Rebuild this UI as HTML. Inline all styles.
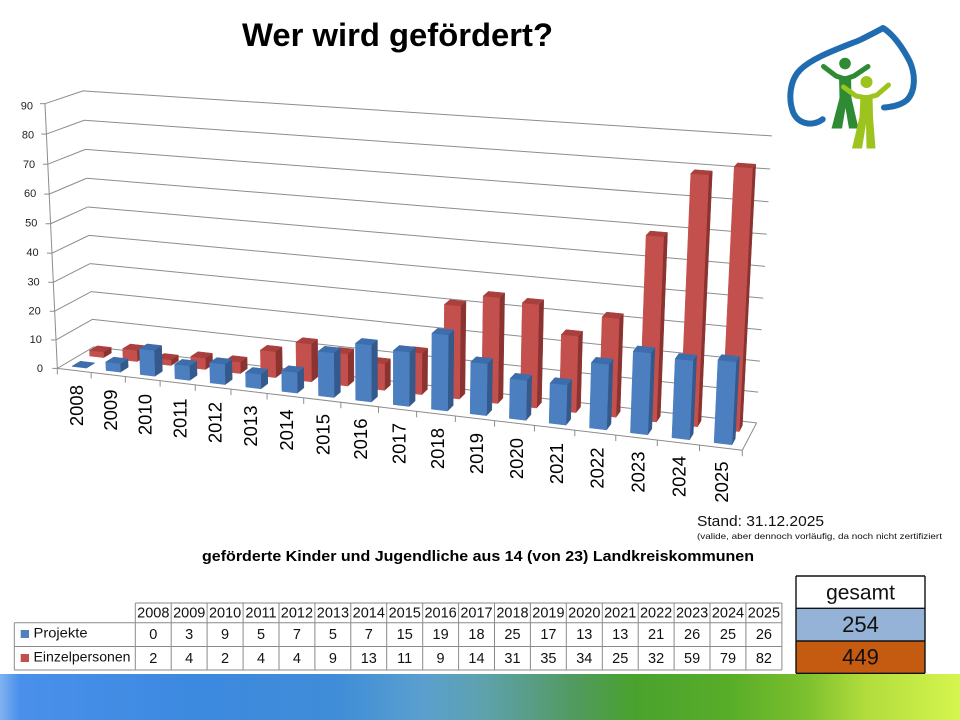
<!DOCTYPE html>
<html><head><meta charset="utf-8"><title>Wer wird gefördert?</title>
<style>
html,body{margin:0;padding:0;background:#fff}
body{width:960px;height:720px;overflow:hidden}
svg{display:block}
text{font-family:"Liberation Sans",Arial,sans-serif}
</style></head><body>
<svg id="s" xmlns="http://www.w3.org/2000/svg" width="960" height="720" viewBox="0 0 960 720">
<defs>
<linearGradient id="band" x1="0" y1="0" x2="1" y2="0">
<stop offset="0" stop-color="#80b3f2"/>
<stop offset="0.02" stop-color="#4a90ea"/>
<stop offset="0.2" stop-color="#3c89e0"/>
<stop offset="0.35" stop-color="#3f8dd8"/>
<stop offset="0.44" stop-color="#5a9fcf"/>
<stop offset="0.5" stop-color="#5ea2b0"/>
<stop offset="0.54" stop-color="#5a9e90"/>
<stop offset="0.6" stop-color="#519a5e"/>
<stop offset="0.66" stop-color="#4aa22e"/>
<stop offset="0.76" stop-color="#58ad28"/>
<stop offset="0.84" stop-color="#7cc02e"/>
<stop offset="0.9" stop-color="#b0dc3c"/>
<stop offset="1" stop-color="#d6f54e"/>
</linearGradient>
</defs>
<rect width="960" height="720" fill="#fff"/>
<rect x="0" y="674" width="960" height="46" fill="url(#band)"/>

<g id="grid"></g>
<g id="bars"></g>

<!-- Title -->
<text x="242" y="46" font-size="32" font-weight="bold" fill="#000" textLength="311" lengthAdjust="spacingAndGlyphs">Wer wird gefördert?</text>

<!-- Logo -->
<g>
<path d="M822.7,119.3 C812,127 798,124 793,112 C788,98 790,80 800,70 C812,58 835,50 860,40 C870,35 878,31 883,28 C893,34 903,48 910,62 C916,76 915,92 907,100 C900,106 890,107 884,107.5" fill="none" stroke="#1f6cb0" stroke-width="6" stroke-linecap="round" stroke-linejoin="round"/>
<circle cx="845" cy="63.5" r="5.8" fill="#2e8b34"/>
<polyline points="823.5,66.5 836,76 845,79 854,76 868,66.5" fill="none" stroke="#2e8b34" stroke-width="5" stroke-linecap="round" stroke-linejoin="round"/>
<polygon points="839,76 851,76 851.5,98 858.5,128.5 849,128.5 845.5,108 842,128.5 831.5,128.5 839.5,98" fill="#2e8b34"/>
<circle cx="866.5" cy="82" r="6" fill="#9dc41e"/>
<polyline points="843.5,87 856,96 866.5,98 877,95 888.5,85" fill="none" stroke="#9dc41e" stroke-width="5" stroke-linecap="round" stroke-linejoin="round"/>
<polygon points="860.5,95 872.5,95 873,117 875.5,148.5 866.5,148.5 866,124 862,148.5 852,148.5 859.5,117" fill="#9dc41e"/>
</g>

<!-- Y axis labels -->
<g font-size="11" fill="#222" text-anchor="end">
<text x="43" y="372">0</text>
<text x="41.9" y="343">10</text>
<text x="40.8" y="314.5">20</text>
<text x="39.7" y="285.5">30</text>
<text x="38.6" y="256">40</text>
<text x="37.4" y="226.5">50</text>
<text x="36.3" y="197">60</text>
<text x="35.2" y="168">70</text>
<text x="34.1" y="138.5">80</text>
<text x="33" y="109.5">90</text>
</g>

<!-- Category labels -->
<g font-size="18.5" fill="#000" text-anchor="end">
<text transform="translate(82.8,385) rotate(-90)">2008</text>
<text transform="translate(117,389.5) rotate(-90)">2009</text>
<text transform="translate(151.5,394) rotate(-90)">2010</text>
<text transform="translate(186.5,398.5) rotate(-90)">2011</text>
<text transform="translate(221.5,402) rotate(-90)">2012</text>
<text transform="translate(257,405.5) rotate(-90)">2013</text>
<text transform="translate(293,409.5) rotate(-90)">2014</text>
<text transform="translate(329.5,414) rotate(-90)">2015</text>
<text transform="translate(367,418.5) rotate(-90)">2016</text>
<text transform="translate(405.5,423) rotate(-90)">2017</text>
<text transform="translate(444,428) rotate(-90)">2018</text>
<text transform="translate(483,433) rotate(-90)">2019</text>
<text transform="translate(523,438) rotate(-90)">2020</text>
<text transform="translate(563,443) rotate(-90)">2021</text>
<text transform="translate(603.5,447.5) rotate(-90)">2022</text>
<text transform="translate(644.5,451.5) rotate(-90)">2023</text>
<text transform="translate(685.5,456) rotate(-90)">2024</text>
<text transform="translate(728,461.5) rotate(-90)">2025</text>
</g>

<!-- Stand -->
<text x="697" y="526" font-size="15" fill="#111" textLength="127" lengthAdjust="spacingAndGlyphs">Stand: 31.12.2025</text>
<text x="697" y="539" font-size="8.5" fill="#111" textLength="245" lengthAdjust="spacingAndGlyphs">(valide, aber dennoch vorläufig, da noch nicht zertifiziert</text>

<!-- Subtitle -->
<text x="202" y="561" font-size="15" font-weight="bold" fill="#000" textLength="552" lengthAdjust="spacingAndGlyphs">geförderte Kinder und Jugendliche aus 14 (von 23) Landkreiskommunen</text>

<!-- Data table -->
<path d="M135.3 603H781.9M14.3 622.7H781.9M14.3 646.5H781.9M14.3 670H781.9M14.3 622.7V670M135.3 603V670M171.2 603V670M207.1 603V670M243.1 603V670M279 603V670M314.9 603V670M350.8 603V670M386.7 603V670M422.7 603V670M458.6 603V670M494.5 603V670M530.4 603V670M566.3 603V670M602.3 603V670M638.2 603V670M674.1 603V670M710 603V670M745.9 603V670M781.9 603V670" fill="none" stroke="#8a8a8a" stroke-width="1"/>
<rect x="20.7" y="630" width="8.3" height="8" fill="#4f81bd"/>
<rect x="20.7" y="654" width="8.3" height="8" fill="#c0504d"/>
<g font-size="14" fill="#111">
<text x="33.5" y="637.5" textLength="54" lengthAdjust="spacingAndGlyphs">Projekte</text>
<text x="33.5" y="661.5" textLength="97" lengthAdjust="spacingAndGlyphs">Einzelpersonen</text>
</g>
<g font-size="14.5" fill="#111" text-anchor="middle">
<text x="153.3" y="617.5">2008</text><text x="189.2" y="617.5">2009</text><text x="225.1" y="617.5">2010</text><text x="261" y="617.5">2011</text><text x="296.9" y="617.5">2012</text><text x="332.9" y="617.5">2013</text><text x="368.8" y="617.5">2014</text><text x="404.7" y="617.5">2015</text><text x="440.6" y="617.5">2016</text><text x="476.5" y="617.5">2017</text><text x="512.5" y="617.5">2018</text><text x="548.4" y="617.5">2019</text><text x="584.3" y="617.5">2020</text><text x="620.2" y="617.5">2021</text><text x="656.1" y="617.5">2022</text><text x="692.1" y="617.5">2023</text><text x="728" y="617.5">2024</text><text x="763.9" y="617.5">2025</text>
<text x="153.3" y="639">0</text><text x="189.2" y="639">3</text><text x="225.1" y="639">9</text><text x="261" y="639">5</text><text x="296.9" y="639">7</text><text x="332.9" y="639">5</text><text x="368.8" y="639">7</text><text x="404.7" y="639">15</text><text x="440.6" y="639">19</text><text x="476.5" y="639">18</text><text x="512.5" y="639">25</text><text x="548.4" y="639">17</text><text x="584.3" y="639">13</text><text x="620.2" y="639">13</text><text x="656.1" y="639">21</text><text x="692.1" y="639">26</text><text x="728" y="639">25</text><text x="763.9" y="639">26</text>
<text x="153.3" y="663">2</text><text x="189.2" y="663">4</text><text x="225.1" y="663">2</text><text x="261" y="663">4</text><text x="296.9" y="663">4</text><text x="332.9" y="663">9</text><text x="368.8" y="663">13</text><text x="404.7" y="663">11</text><text x="440.6" y="663">9</text><text x="476.5" y="663">14</text><text x="512.5" y="663">31</text><text x="548.4" y="663">35</text><text x="584.3" y="663">34</text><text x="620.2" y="663">25</text><text x="656.1" y="663">32</text><text x="692.1" y="663">59</text><text x="728" y="663">79</text><text x="763.9" y="663">82</text>
</g>

<!-- gesamt box -->
<rect x="796" y="576" width="129" height="32.3" fill="#fff"/>
<rect x="796" y="608.3" width="129" height="32.7" fill="#95b3d7"/>
<rect x="796" y="641" width="129" height="32.3" fill="#c55a11"/>
<path d="M796 576H925M796 608.3H925M796 641H925M796 673.3H925M796 576V673.3M925 576V673.3" fill="none" stroke="#111" stroke-width="1.4"/>
<g text-anchor="middle" fill="#111">
<text x="860.5" y="599.5" font-size="21">gesamt</text>
<text x="860.5" y="632" font-size="22">254</text>
<text x="860.5" y="664.5" font-size="22">449</text>
</g>
</svg>
<script>
(function(){
var NS="http://www.w3.org/2000/svg";
var pts=[[0,0,0,57.5,368],[18,0,0,742,450],[9,0,0,378,406],[4,0,0,196,386],[14,0,0,575,431],
[0,90,0,45,104],[0,80,0,46,133.3],[0,90,1,83.3,91],[0,80,1,84.3,120.7],[0,10,1,92,319],
[18,90,1,772,136],[18,50,1,765,266],[18,10,1,758,392],[18,0,1,757,423]];
var N=11,M=[],r=[],i,j,k,c;
for(i=0;i<N;i++){var row=[];for(j=0;j<N;j++)row.push(0);M.push(row);r.push(0);}
function addRow(a,b){for(var i=0;i<N;i++){for(var j=0;j<N;j++)M[i][j]+=a[i]*a[j];r[i]+=a[i]*b;}}
pts.forEach(function(p){var X=p[0],Y=p[1]/10,Z=p[2],u=p[3],v=p[4];
 addRow([X,Y,Z,1,0,0,0,0,-u*X,-u*Y,-u*Z],u);
 addRow([0,0,0,0,X,Y,Z,1,-v*X,-v*Y,-v*Z],v);});
for(c=0;c<N;c++){var piv=c;for(k=c+1;k<N;k++)if(Math.abs(M[k][c])>Math.abs(M[piv][c]))piv=k;
 var t=M[c];M[c]=M[piv];M[piv]=t;t=r[c];r[c]=r[piv];r[piv]=t;
 for(k=c+1;k<N;k++){var f=M[k][c]/M[c][c];for(j=c;j<N;j++)M[k][j]-=f*M[c][j];r[k]-=f*r[c];}}
var P=new Array(N);
for(c=N-1;c>=0;c--){var s=r[c];for(j=c+1;j<N;j++)s-=M[c][j]*P[j];P[c]=s/M[c][c];}
function pr(X,Y,Z){Y=Y/10;var w=P[8]*X+P[9]*Y+P[10]*Z+1;return [(P[0]*X+P[1]*Y+P[2]*Z+P[3])/w,(P[4]*X+P[5]*Y+P[6]*Z+P[7])/w];}
function mk(tag,attrs,parent){var e=document.createElementNS(NS,tag);for(var a in attrs)e.setAttribute(a,attrs[a]);parent.appendChild(e);return e;}
function pstr(a){return a.map(function(p){return p[0].toFixed(2)+","+p[1].toFixed(2);}).join(" ");}
var G=document.getElementById("grid"),B=document.getElementById("bars");
var gc="#8c8c8c";
function ln(a,b){mk("line",{x1:a[0].toFixed(2),y1:a[1].toFixed(2),x2:b[0].toFixed(2),y2:b[1].toFixed(2),stroke:gc,"stroke-width":1},G);}
for(var v=0;v<=90;v+=10){
 ln(pr(0,v,1),pr(18,v,1));
 ln(pr(0,v,0),pr(0,v,1));
 var a=pr(0,v,0);ln(a,[a[0]-5,a[1]]);
}
ln(pr(0,0,0),pr(0,90,0));
ln(pr(0,0,0),pr(18,0,0));
ln(pr(18,0,0),pr(18,0,1));
for(i=0;i<=18;i++){var q=pr(i,0,0);ln(q,[q[0],q[1]+6]);}
var blue=[0,3,9,5,7,5,7,15,19,18,25,17,13,13,21,26,25,26];
var red=[2,4,2,4,4,9,13,11,9,14,31,35,34,25,32,59,79,82];
function poly(p,col){mk("polygon",{points:pstr(p),fill:col,stroke:col,"stroke-width":0.5,"stroke-linejoin":"round"},B);}
function bar(i,v,z0,z1,cf,cs,ct){
 var x0=i+0.29,x1=i+0.71;if(v<=0)v=0.15;
 poly([pr(x1,0,z0),pr(x1,0,z1),pr(x1,v,z1),pr(x1,v,z0)],cs);
 poly([pr(x0,0,z0),pr(x1,0,z0),pr(x1,v,z0),pr(x0,v,z0)],cf);
 poly([pr(x0,v,z0),pr(x1,v,z0),pr(x1,v,z1),pr(x0,v,z1)],ct);
}
for(i=0;i<18;i++)bar(i,red[i],0.62,0.84,"#c4504d","#8a3331","#a9403d");
for(i=0;i<18;i++)bar(i,blue[i],0.14,0.36,"#4b7fc0","#34598a","#3d6daa");
})();
</script>
</body></html>
